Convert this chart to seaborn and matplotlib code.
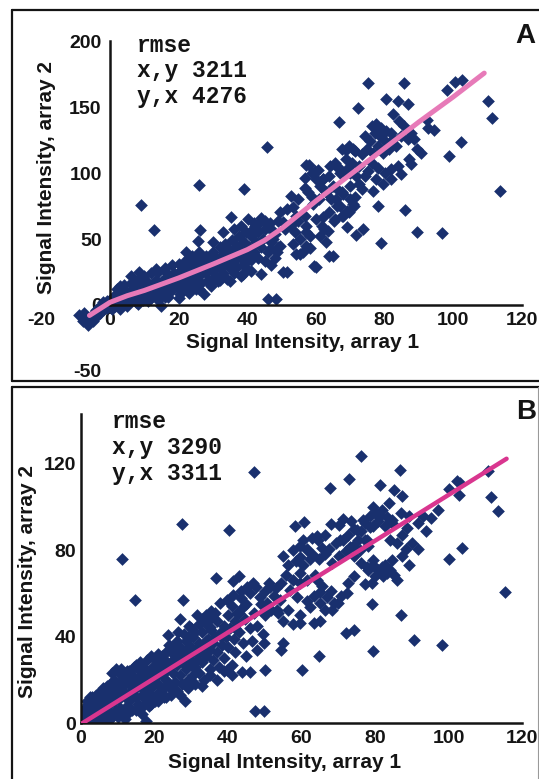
import matplotlib
matplotlib.use("Agg")
import matplotlib.pyplot as plt
import pandas as pd
import seaborn as sns
from matplotlib.lines import Line2D

# ---------------- data: panel A (before normalisation) ----------------
a_band = [
    (-9, -8), (-8, -12), (-7.5, -6), (-6.5, -15), (-6, -10), (-5, -12), (-5, -7), (-4, -9),
    (-4, -4), (-3, -6), (-3, -1), (-2, -4), (-2, 2), (-1, -2), (-1, 3), (0, 0), (0, 4),
    (0.5, -3), (1, 2), (1, 6), (1.5, -1), (2, 3), (2, 8), (2.5, 0), (3, 5), (3, 9), (3.5, 1),
    (4, 4), (4, 8), (4.5, 10), (5, 2), (5, 6), (5.5, 9), (6, 3), (6, 7), (6.5, 12), (7, 5),
    (7, 9), (7.5, 2), (8, 6), (8, 11), (8.5, 14), (9, 8), (9, 12), (9.5, 4), (10, 10),
    (10, 14), (10.5, 7), (11, 12), (11, 17), (11.5, 9), (12, 5), (12, 14), (12.5, 11),
    (13, 16), (13, 9), (13.5, 19), (14, 13), (14, 8), (14.5, 16), (15, 11), (15, 18),
    (15.5, 14), (16, 6), (16, 20), (16.5, 13), (17, 16), (17, 22), (17.5, 10), (18, 18),
    (18, 13), (18.5, 24), (19, 16), (19, 21), (20, 12), (20, 19), (20, 25), (20.5, 8),
    (21, 22), (21, 16), (21.5, 28), (22, 20), (22, 13), (22.5, 24), (23, 18), (23, 27),
    (23.5, 15), (24, 22), (24, 31), (24.5, 19), (25, 25), (25, 12), (25.5, 29), (26, 22),
    (26, 34), (26.5, 17), (27, 27), (27.5, 31), (28, 24), (28, 37), (28.5, 19), (29, 29),
    (29, 33), (29.5, 14), (30, 26), (30, 40), (30.5, 22), (31, 31), (31, 36), (31.5, 18),
    (32, 28), (32, 44), (32.5, 34), (33, 24), (33, 39), (33.5, 46), (34, 31), (34, 20),
    (34.5, 36), (35, 28), (35, 42), (35.5, 49), (36, 33), (36, 24), (36.5, 39), (37, 45),
    (37, 29), (37.5, 52), (38, 36), (38, 60), (38.5, 42), (39, 48), (39, 31), (39.5, 55),
    (40, 38), (40, 27), (40.5, 44), (41, 52), (41, 34), (41.5, 58), (42, 40), (42, 62),
    (42.5, 48), (43, 55), (43, 36), (43.5, 62), (44, 44), (44, 66), (44.5, 50), (45, 58),
    (45, 33), (46, 40), (46.5, 62), (47, 48), (47, 30), (48, 54), (48, 36), (49, 44),
    (49, 64), (6, 22), (8.5, 25), (13.4, 27), (22, 40), (25.5, 48.7), (14.8, -0.5),
    (27.5, 8), (38.6, 23.5), (44, 23.5), (3, 14), (10, 20), (16, 26), (30, 48), (33, 55),
    (36, 58),
]
# extra points along the upper and lower edge of the dense band
a_band_edge = [
    (2, 12), (4, 15), (6, 17), (8, 19), (10, 22), (12, 24), (14, 25), (16, 28), (18, 30),
    (20, 31), (22, 34), (24, 37), (26, 40), (3, -3), (5, -1), (8, 1), (11, 3), (14, 4),
    (17, 6), (20, 5), (23, 9), (26, 12), (29, 16), (32, 19), (35, 18), (38, 22), (41, 26),
]
a_cluster = [
    (68.7, 118), (70.9, 118.7), (58, 106), (60.6, 102.5), (64, 105.5), (65.5, 108), (62, 95.5),
    (67, 103), (68.4, 100.5), (69.4, 104), (56.7, 89), (57.7, 85.4), (58.7, 81.6), (63, 85.4),
    (64.5, 80.3), (66, 87.9), (67.9, 84), (69.9, 90.4), (71.3, 81.6), (67, 75.2), (68.9, 71.4),
    (70.8, 76.5), (65.5, 65), (67.9, 67.7), (68.9, 58.9), (60.1, 65), (61.6, 60), (57.2, 60),
    (58.2, 52.5), (63.5, 56.3), (55.3, 38.6), (56.2, 39.9), (65, 37.4), (60.1, 28.5),
    (51.4, 25.3), (35.3, 66.4), (40.1, 65.2), (42.1, 60), (45, 63.9), (46, 58.9), (47.5, 56.3),
    (49.4, 70.2), (51.4, 72.7), (53.3, 74), (54.3, 67.7), (50.4, 62.7), (52.3, 60), (53.8, 55),
    (56.7, 96.7), (58.7, 100.5), (60.1, 95.5), (61.1, 90.4), (52.8, 82.8), (54.8, 80.3),
    (61.1, 52.5), (63, 47.5), (57.2, 45),
    (84.3, 139.6), (85.7, 135.8), (87.6, 130.8), (86.7, 125.8), (84.8, 128.3), (88.6, 125.6),
    (89.5, 118.7), (82.4, 125.8), (83.3, 120.8), (76.2, 135.8), (77.6, 137.1), (79, 134.6),
    (80.5, 132.1), (81.9, 130.8), (77.1, 130.8), (78.6, 128.3), (80, 124.5), (74.3, 128.3),
    (75.7, 124.5), (78.1, 120.7), (74.8, 118.2), (76.7, 115.6), (79.5, 115.6), (81.4, 118.2),
    (67.6, 118.2), (69.5, 120.7), (71.4, 116.9), (73.3, 114.4), (68.6, 110.6), (70.5, 108.1),
    (72.4, 105.6), (65.7, 105.6), (67.1, 100.5), (70, 100.5), (76.2, 108.1), (78.1, 104.3),
    (80, 100.5), (81.9, 103), (83.8, 105.6), (84.8, 99.2), (77.6, 95.4), (79.5, 91.7),
    (81.9, 95.4), (74.3, 97.9), (76.7, 86.6), (57, 106.3), (59.8, 101.8), (61.9, 95.5),
    (63.8, 98), (64.8, 90.4), (62.9, 85.4), (61, 80.3), (59, 76.5), (65.7, 80.3), (67.6, 85.4),
    (66.2, 75.3), (63.8, 70.2), (61.9, 66.4), (67.6, 67.7), (69.5, 70.2), (65.2, 63.9),
    (56.7, 67.7), (54.8, 63.9), (52.9, 61.4), (51, 57.5), (57.1, 55), (55.2, 49.9), (53.3, 46.1),
    (49.5, 44.8), (47.6, 49.9), (46.7, 42.3), (48.6, 39.9), (58.1, 43.5), (62.4, 57.5),
    (70, 80.3), (71, 75.3), (72.5, 92), (73.5, 88), (75, 102), (71.5, 98),
]
a_outliers = [
    (9.1, 75.5), (12.9, 56.6), (25.8, 91.2), (26.3, 56.6), (39.1, 88), (45.8, 119.8), (46, 4.4),
    (48.3, 4.4), (75, 168.7), (85.7, 168.7), (72.2, 149.7), (80.5, 156), (83.8, 154.7),
    (86.7, 152.3), (82.4, 144.7), (66.7, 138.9), (98.1, 163), (100.5, 169.1), (102.4, 170.4),
    (110, 154.8), (111.4, 141.8), (102.2, 123.7), (98.6, 113.1), (113.5, 86.6), (96.7, 54.3),
    (89.5, 55), (78.9, 46.7), (71.6, 53.3), (73.8, 57.5), (86, 71.9), (78.1, 75.3), (63.8, 37.4),
    (59.5, 29.8), (50.5, 24.8), (54.3, 38.6), (92.4, 140.4), (94.3, 132.6), (92.7, 134.4),
    (90.5, 115.6), (87.6, 106.7), (87.2, 111),
]
# fitted curve, panel A
fit_a_x = [-6, -3, 0, 5, 10, 20, 30, 40, 45, 50, 60, 70, 80, 90, 100, 109]
fit_a_y = [-8, -3, 2, 7, 11, 20.5, 31, 42, 49, 58, 79, 99, 119, 139, 158, 176]

# ---------------- data: panel B (after normalisation) ----------------
b_band = [
    (0.5, 1), (0.5, 4), (1, 2), (1, 7), (1.5, 0.5), (1.5, 10), (2, 3), (2, 6), (2.5, 1), (2.5, 12),
    (3, 4), (3, 8), (3.5, 2), (3.5, 10), (4, 5), (4, 13), (4.5, 1), (4.5, 8), (5, 6), (5, 11),
    (5.5, 3), (5.5, 15), (6, 7), (6, 10), (6.5, 4), (6.5, 13), (7, 8), (7, 17), (7.5, 5), (7.5, 11),
    (8, 9), (8, 14), (8.5, 3), (8.5, 23), (9, 10), (9, 16), (9.5, 6), (9.5, 25), (10, 11), (10, 14),
    (10.5, 7), (10.5, 19), (11, 12), (11, 22), (11.5, 5), (11.5, 15), (12, 13), (12, 18),
    (12.5, 8), (12.5, 24), (13, 14), (13, 10), (13.5, 17), (13.5, 21), (14, 6), (14, 15),
    (14.5, 19), (14.5, 26), (15, 12), (15, 16), (15.5, 9), (15.5, 21), (16, 17), (16, 28),
    (16.5, 13), (16.5, 4), (17, 18), (17, 22), (17.5, 11), (18, 19), (18, 15), (18.5, 24),
    (18.5, 8), (19, 20), (19, 13), (19.5, 26), (19.5, 17), (20, 21), (20, 10), (20.5, 23),
    (20.5, 29), (21, 18), (21, 14), (21.5, 25), (22, 22), (22, 31), (22.5, 16), (22.5, 12),
    (23, 24), (23, 20), (23.5, 28), (24, 17), (24, 26), (24.5, 33), (24.5, 13), (25, 23),
    (25, 29), (25.5, 19), (25.5, 36), (26, 27), (26, 15), (26.5, 31), (26.5, 42), (27, 22),
    (27.5, 28), (27.5, 18), (28, 33), (28.5, 25), (28.5, 38), (29, 30), (29, 20), (29.5, 35),
    (29.5, 45), (30, 27), (30, 32), (30.5, 22), (30.5, 40), (31, 34), (31, 26), (31.5, 29),
    (31.5, 50), (32, 37), (32, 23), (32.5, 33), (33, 28), (33, 42), (33.5, 36), (33.5, 20),
    (34, 31), (34, 46), (34.5, 39), (35, 34), (35, 25), (35.5, 43), (35.5, 52), (36, 37),
    (36, 29), (36.5, 40), (37, 33), (37, 47), (37.5, 26), (38, 42), (38.5, 36), (39, 45),
    (39, 30), (39.5, 40), (40, 50), (40, 35), (40.5, 44), (41, 27), (41, 54), (41.5, 39),
    (42, 47), (42, 33), (43, 51), (43, 42), (43.5, 58), (44, 37), (44.5, 48), (45, 55), (45, 31),
    (46, 44), (46, 60), (46.5, 38), (47, 51), (47.5, 63), (48, 45), (48, 34), (49, 55),
    (49.5, 41), (50, 50), (50, 61),
]
# extra points filling the dense lower band
b_band_fill = [
    (2, 9), (3, 12), (4, 10), (5, 14), (6, 16), (7, 13), (8, 18), (9, 20), (10, 17), (11, 25),
    (12, 21), (13, 24), (14, 22), (15, 27), (16, 24), (17, 26), (18, 29), (19, 31), (20, 27),
    (21, 32), (22, 27), (23, 33), (24, 36), (25, 34), (26, 38), (27, 35), (28, 41), (29, 40),
    (30, 44), (31, 42), (32, 46), (33, 48), (34, 50), (35, 48), (6, 1), (8, 2), (10, 3), (12, 2),
    (13, 5), (15, 6), (17, 8), (19, 9), (21, 10), (23, 12), (25, 15), (27, 13), (29, 16),
    (31, 18), (33, 17), (35, 22), (37, 20), (39, 24), (41, 22), (5, 8), (9, 12), (14, 18),
    (18, 22), (22, 25), (26, 30), (30, 35), (34, 38), (38, 40), (42, 44),
]
b_cluster = [
    (60.5, 84.9), (62.8, 85.7), (64.2, 86.4), (59.5, 81.8), (61.4, 80.3), (65.6, 81.1), (67.4, 80.3),
    (69.3, 83.4), (71.2, 84.9), (72.6, 87.2), (74.4, 89.6), (76.3, 88.8), (77.2, 92.6), (78.6, 95.7),
    (80, 97.2), (81.4, 95.7), (80.9, 93.4), (82.8, 91.1), (75.3, 84.9), (74, 81.8), (72.1, 79.5),
    (70.2, 77.2), (68.4, 74.1), (66.5, 78), (64.7, 75.7), (62.3, 75.7), (60.5, 73.3), (58.6, 74.9),
    (56.3, 73.3), (54.9, 77.2), (55.8, 68.7), (57.7, 66.4), (59.5, 64.8), (54.4, 64.8), (53, 62.5),
    (51.2, 64.8), (52.6, 58.7), (50.7, 55.6), (49.8, 51), (51.6, 52.5), (53.5, 51), (56.3, 52.5),
    (54.9, 47.2), (57.7, 45.6), (59.5, 50.2), (63.3, 46.4), (61.4, 56.4), (63.3, 58.7), (65.1, 55.6),
    (66.5, 52.5), (68.8, 55.6), (70.7, 58.7), (67.9, 61), (65.6, 63.3), (64.2, 66.4), (72.6, 64.8),
    (74.4, 67.9), (77.2, 64.1), (78.1, 71), (79.5, 73.3), (80.9, 71), (82.8, 73.3), (84.2, 71),
    (85.1, 68.7), (82.3, 67.9), (80, 67.9), (76.3, 74.1), (74.4, 77.2), (84.2, 84.9), (86, 83.4),
    (87.4, 87.2), (88.8, 90.3), (88.4, 80.3), (90.2, 83.4), (91.6, 80.3), (87.4, 77.2), (89.3, 73.3),
    (93.9, 88.8), (91.6, 92.6), (89.3, 95.7), (87, 97.2), (84.6, 94.1), (95.3, 95.1), (93, 95.7),
    (77.2, 84.9), (79.5, 91.1), (78.1, 81.8), (67.9, 92.3), (70.2, 91.4), (60.6, 93.2), (71.3, 94.4),
    (73.6, 93.7), (49.8, 37.1), (43, 68.2), (43.5, 61.3),
    (57.8, 80.1), (59.6, 77), (61.4, 80.1), (63.2, 77.8), (64.6, 84.7), (66.4, 87), (59.6, 69.3),
    (61.4, 66.2), (63.7, 68.5), (56.9, 61.6), (58.7, 58.5), (54.1, 56.9), (53.2, 52.3), (51.4, 63.1),
    (48.7, 58.5), (46.9, 64.7), (45.1, 63.1), (44.2, 53.8), (42.4, 50.8), (37.8, 55.4), (39.6, 56.9),
    (36.5, 50.8), (35.1, 44.6), (65, 60.8), (66.9, 58.5), (62.3, 53.8), (70, 55.4), (72.3, 60),
    (68.2, 52.3), (59.6, 46.2), (65, 47), (75, 89.4), (76.8, 94), (78.6, 90.9), (79.5, 100.1),
    (81.8, 98.6), (83.2, 95.5), (84.5, 92.5), (77.7, 84.7), (73.2, 81.6), (70.5, 84.7), (75.9, 80.1),
    (77.7, 72.4), (79.5, 75.5), (81.8, 72.4), (83.2, 69.3), (84.5, 75.5), (85.9, 66.2), (79.1, 64.7),
]
b_outliers = [
    (11.1, 76.1), (14.6, 56.8), (27.5, 92.3), (27.8, 56.8), (40.4, 89.2), (47.1, 116.3), (76.1, 123.5),
    (86.8, 116.9), (73, 112.7), (67.7, 108.9), (81.4, 110.3), (85.1, 108), (87.4, 104.9),
    (83.7, 101.8), (58.2, 91.1), (100, 108.4), (102.3, 111.9), (103.2, 111.1), (110.7, 116.7),
    (111.6, 104.4), (113.5, 97.9), (103.7, 81.1), (100, 75.7), (115.3, 60.5), (98.1, 36.1),
    (90.7, 38.5), (79.5, 33.2), (72.1, 41.7), (74.4, 43.2), (87, 50.2), (79.1, 54.9), (64.7, 30.9),
    (60, 24.7), (50.2, 24.7), (54.9, 37.1), (54.4, 34), (47.4, 5.4), (49.9, 5.4), (39.7, 24.4),
    (43.8, 23.5), (46.1, 23.5), (36.7, 67.2), (41.3, 65.6), (41.4, 59.4), (17.6, 0.8), (28.4, 10),
    (23.6, 40.5), (27, 48.2), (102.8, 105.6), (97.2, 98.8),
]
# fitted line, panel B
fit_b_x = [0, 115.8]
fit_b_y = [-0.5, 122.3]

a_xticks = [-20, 0, 20, 40, 60, 80, 100, 120]
a_yticks = [-50, 0, 50, 100, 150, 200]
b_xticks = [0, 20, 40, 60, 80, 100, 120]
b_yticks = [0, 40, 80, 120]

a_text = ["rmse", "x,y 3211", "y,x 4276"]
b_text = ["rmse", "x,y 3290", "y,x 3311"]
axis_x_label = "Signal Intensity, array 1"
axis_y_label = "Signal Intensity, array 2"

# ---------------- styling ----------------
sns.set_style("white")
plt.rcParams["font.family"] = ["Liberation Sans", "DejaVu Sans"]
plt.rcParams["font.weight"] = "bold"
plt.rcParams["axes.unicode_minus"] = False

NAVY = "#19306e"
INK = "#141414"
MARK = 42
W, H = 539, 779
fig = plt.figure(figsize=(W / 100, H / 100), dpi=100)
fig.patch.set_facecolor("white")


def axes_px(left, top, right, bottom):
    return fig.add_axes([left / W, 1 - bottom / H, (right - left) / W, (bottom - top) / H])


def frame_line(x0, y0, x1, y1, lw=1.6, color=INK):
    fig.add_artist(Line2D([x0 / W, x1 / W], [1 - y0 / H, 1 - y1 / H],
                          transform=fig.transFigure, lw=lw, color=color))


def style_axes(ax, xlim, ylim, xticks, yticks, xbound, ybound, xpad, ypad):
    ax.set_xlim(*xlim)
    ax.set_ylim(*ylim)
    ax.set_facecolor("none")
    for s in ("top", "right"):
        ax.spines[s].set_visible(False)
    ax.spines["left"].set_position(("data", 0))
    ax.spines["bottom"].set_position(("data", 0))
    ax.spines["left"].set_bounds(*ybound)
    ax.spines["bottom"].set_bounds(*xbound)
    for s in ("left", "bottom"):
        ax.spines[s].set_linewidth(1.8)
        ax.spines[s].set_color(INK)
    ax.set_xticks(xticks)
    ax.set_yticks(yticks)
    ax.tick_params(length=0, labelsize=14, colors=INK)
    ax.tick_params(axis="x", pad=xpad)
    ax.tick_params(axis="y", pad=ypad)
    ax.set_axisbelow(True)


def to_frame(*groups):
    pts = [p for g in groups for p in g]
    return pd.DataFrame(pts, columns=["x", "y"])


# ---------------- panel A ----------------
axA = axes_px(41.4, 41.5, 522, 370.8)
dfA = to_frame(a_band, a_band_edge, a_cluster, a_outliers)
sns.scatterplot(data=dfA, x="x", y="y", marker="D", s=MARK, color=NAVY,
                linewidth=0, ax=axA, legend=False, zorder=2)
sns.lineplot(x=fit_a_x, y=fit_a_y, color="#e77ab8", linewidth=3.6,
             estimator=None, ax=axA, zorder=3)
style_axes(axA, (-20, 120), (-50, 200), a_xticks, a_yticks, (0, 120), (0, 200), 5, 6)
axA.set_xlabel(axis_x_label, fontsize=15, fontweight="bold", color=INK)
axA.set_ylabel(axis_y_label, fontsize=15, fontweight="bold", color=INK)
axA.xaxis.set_label_coords((303 - 41.4) / 480.6, (370.8 - 342) / 329.3)
axA.xaxis.label.set_verticalalignment("center")
axA.yaxis.set_label_coords((47 - 41.4) / 480.6, (370.8 - 178) / 329.3)
axA.yaxis.label.set_verticalalignment("center")
axA.yaxis.label.set_horizontalalignment("center")

# ---------------- panel B ----------------
axB = axes_px(81, 414, 522, 723)
dfB = to_frame(b_band, b_band_fill, b_cluster, b_outliers)
sns.scatterplot(data=dfB, x="x", y="y", marker="D", s=MARK, color=NAVY,
                linewidth=0, ax=axB, legend=False, zorder=2)
sns.lineplot(x=fit_b_x, y=fit_b_y, color="#d9368f", linewidth=3.2,
             estimator=None, ax=axB, zorder=3)
style_axes(axB, (0, 120), (0, 143), b_xticks, b_yticks, (0, 120), (0, 143), 5, 3.5)
axB.set_xlabel(axis_x_label, fontsize=15, fontweight="bold", color=INK)
axB.set_ylabel(axis_y_label, fontsize=15, fontweight="bold", color=INK)
axB.xaxis.set_label_coords((285 - 81) / 441, (723 - 762) / 309)
axB.xaxis.label.set_verticalalignment("center")
axB.yaxis.set_label_coords((28 - 81) / 441, (723 - 581) / 309)
axB.yaxis.label.set_verticalalignment("center")
axB.yaxis.label.set_horizontalalignment("center")

# ---------------- rmse notes and panel letters ----------------
mono = dict(family="Liberation Mono", weight="bold", size=16.5, color=INK, va="center", ha="left")
for i, line in enumerate(a_text):
    fig.text(137 / W, 1 - (45 + 26 * i) / H, line, **mono)
for i, line in enumerate(b_text):
    fig.text(112 / W, 1 - (422 + 25.5 * i) / H, line, **mono)
fig.text(525 / W, 1 - 36 / H, "A", fontsize=20, fontweight="bold", color=INK, ha="center", va="center")
fig.text(526 / W, 1 - 412 / H, "B", fontsize=20, fontweight="bold", color=INK, ha="center", va="center")

# ---------------- panel frames ----------------
frame_line(12, 10, 539, 10)
frame_line(12, 10, 12, 381)
frame_line(12, 381, 539, 381)
frame_line(12, 387, 539, 387)
frame_line(12, 387, 12, 779)
frame_line(537.5, 387, 537.5, 779, lw=0.8, color="#9a9a9a")

fig.savefig("out.png", dpi=100, facecolor="white")
